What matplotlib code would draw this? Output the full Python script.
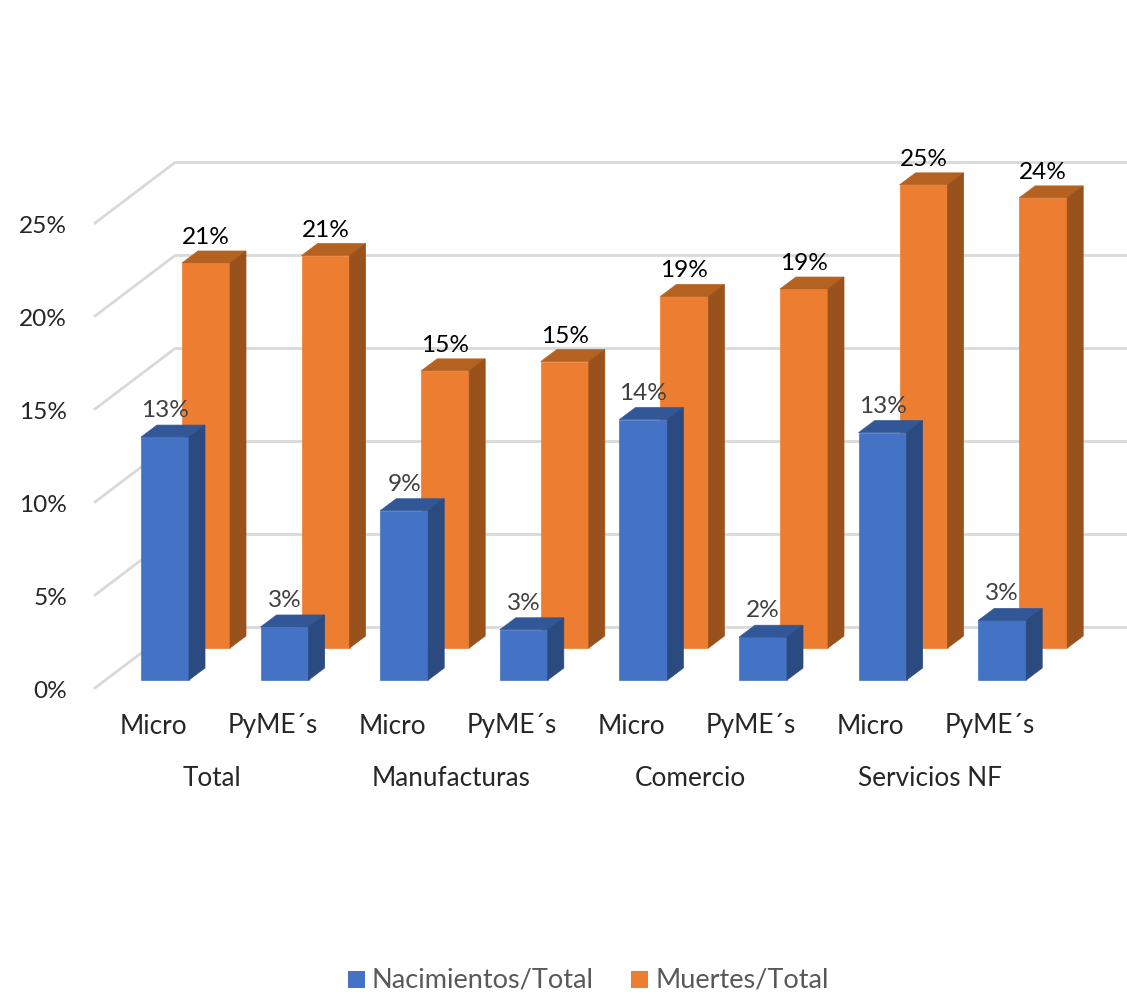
import matplotlib
matplotlib.use('Agg')
from matplotlib import pyplot as plt
from matplotlib.patches import Polygon

plt.rcParams['font.family'] = ['Lato', 'DejaVu Sans']

cats = ['Micro', 'PyME´s'] * 4
groups = ['Total', 'Manufacturas', 'Comercio', 'Servicios NF']
nacimientos = [13.06, 2.85, 9.1, 2.7, 14.0, 2.3, 13.3, 3.2]
muertes = [20.7, 21.1, 14.9, 15.4, 18.9, 19.3, 24.9, 24.2]
yticks = [0, 5, 10, 15, 20, 25]

W, H = 1127, 1001
PX_X = 119.6   # pixels per category
PX_Y = 18.6    # pixels per percent point


def px_x(n):
    return n / PX_X


def px_y(n):
    return n / PX_Y


fig = plt.figure(figsize=(W / 100, H / 100), dpi=100)
ax = fig.add_axes([0, 0, 1, 1])
ax.set_xlim(px_x(-141), px_x(W - 141))
ax.set_ylim(px_y(680 - H), px_y(680))
ax.axis('off')

BAR_W = px_x(48)
DX, DY = px_x(16), px_y(12)

# walls
wall_dx0, wall_dx1 = px_x(-46), px_x(34)
wall_y0, wall_y1 = px_y(-8), px_y(52.5)
for t in yticks:
    ax.plot([wall_dx0, wall_dx1, px_x(W)], [wall_y0 + t, wall_y1 + t, wall_y1 + t],
            color='#d9d9d9', lw=2.0, solid_joinstyle='miter', zorder=1)
    ax.text(px_x(-74), t + px_y(-11.5), f'{t}%', ha='right', va='center',
            fontsize=17.6, color='#262626', zorder=10)


def bar3d(x, v, y0, front, top, side, zorder):
    ax.add_patch(Polygon([(x, y0), (x + BAR_W, y0), (x + BAR_W, v), (x, v)],
                         fc=front, ec=front, lw=0.5, zorder=zorder))
    ax.add_patch(Polygon([(x, v), (x + BAR_W, v), (x + BAR_W + DX, v + DY), (x + DX, v + DY)],
                         fc=top, ec=top, lw=0.5, zorder=zorder))
    ax.add_patch(Polygon([(x + BAR_W, y0), (x + BAR_W + DX, y0 + DY),
                          (x + BAR_W + DX, v + DY), (x + BAR_W, v)],
                         fc=side, ec=side, lw=0.5, zorder=zorder))


ORANGE_DX, ORANGE_Y0 = px_x(41), px_y(32)
for i, v in enumerate(muertes):
    x = i + ORANGE_DX
    bar3d(x, v + ORANGE_Y0, ORANGE_Y0, '#ed7d31', '#b5611f', '#9a521d', 3)
for i, v in enumerate(nacimientos):
    bar3d(i, v, 0, '#4472c4', '#325797', '#2a4a80', 4)

for i, v in enumerate(muertes):
    ax.text(i + ORANGE_DX + BAR_W / 2, v + ORANGE_Y0 + px_y(25.5), f'{round(v)}%',
            ha='center', va='center', fontsize=17.6, color='#000000', zorder=10)
for i, v in enumerate(nacimientos):
    ax.text(i + BAR_W / 2, v + px_y(26.5), f'{round(v)}%',
            ha='center', va='center', fontsize=17.6, color='#404040', zorder=10)

for i, c in enumerate(cats):
    ax.text(i + px_x(12), px_y(-46), c, ha='center', va='center', fontsize=18.8, color='#262626')
for i, g in enumerate(groups):
    ax.text(2 * i + px_x(71), px_y(-99), g, ha='center', va='center', fontsize=18.8, color='#262626')

# legend
legend = [('Nacimientos/Total', '#4472c4', 348), ('Muertes/Total', '#ed7d31', 631)]
for label, col, x0 in legend:
    ax.add_patch(Polygon([(px_x(x0 - 141), px_y(680 - 971)), (px_x(x0 + 17 - 141), px_y(680 - 971)),
                          (px_x(x0 + 17 - 141), px_y(680 - 988)), (px_x(x0 - 141), px_y(680 - 988))],
                         fc=col, ec='none'))
    ax.text(px_x(x0 + 24 - 141), px_y(680 - 980), label, ha='left', va='center',
            fontsize=19.5, color='#595959')

fig.savefig('out.png', dpi=100)
